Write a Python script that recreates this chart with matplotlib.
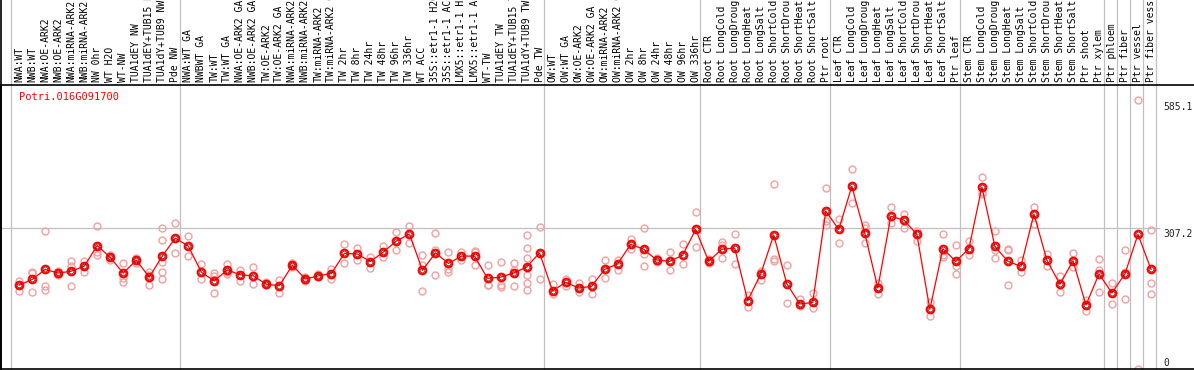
import matplotlib
matplotlib.use("Agg")
import matplotlib.pyplot as plt
import matplotlib.transforms as mtransforms

gene = "Potri.016G091700"

samples = [
    "NWA:WT", "NWB:WT", "NWA:OE-ARK2", "NWB:OE-ARK2", "NWA:miRNA-ARK2",
    "NWB:miRNA-ARK2", "NW 0hr", "WT H2O", "WT-NW", "TUA1dEY NW",
    "TUA1dEY+TUB15 NW", "TUA1dY+TUB9 NW", "Pde NW",
    "NWA:WT GA", "NWBWT GA", "TW:WT", "TW:WT GA", "NWA:OE-ARK2 GA",
    "NWB:OE-ARK2 GA", "TW:OE-ARK2", "TW:OE-ARK2 GA", "NWA:miRNA-ARK2 GA",
    "NWB:miRNA-ARK2 GA", "TW:miRNA-ARK2", "TW:miRNA-ARK2 GA", "TW 2hr",
    "TW 8hr", "TW 24hr", "TW 48hr", "TW 96hr", "TW 336hr", "WT ACC",
    "35S::etr1-1 H2O", "35S::etr1-1 ACC", "LMX5::etr1-1 H2O",
    "LMX5::etr1-1 ACC", "WT-TW", "TUA1dEY TW", "TUA1dEY+TUB15 TW",
    "TUA1dY+TUB9 TW", "Pde TW",
    "OW:WT", "OW:WT GA", "OW:OE-ARK2", "OW:OE-ARK2 GA", "OW:miRNA-ARK2",
    "OW:miRNA-ARK2 GA", "OW 2hr", "OW 8hr", "OW 24hr", "OW 48hr", "OW 96hr",
    "OW 336hr",
    "Root CTR", "Root LongCold", "Root LongDrought", "Root LongHeat",
    "Root LongSalt", "Root ShortCold", "Root ShortDrought", "Root ShortHeat",
    "Root ShortSalt", "Ptr root",
    "Leaf CTR", "Leaf LongCold", "Leaf LongDrought", "Leaf LongHeat",
    "Leaf LongSalt", "Leaf ShortCold", "Leaf ShortDrought", "Leaf ShortHeat",
    "Leaf ShortSalt", "Ptr leaf",
    "Stem CTR", "Stem LongCold", "Stem LongDrought", "Stem LongHeat",
    "Stem LongSalt", "Stem ShortCold", "Stem ShortDrought", "Stem ShortHeat",
    "Stem ShortSalt", "Ptr shoot", "Ptr xylem",
    "Ptr phloem", "Ptr fiber", "Ptr vessel", "Ptr fiber vessel",
]

means = [
    183, 195, 217, 209, 213, 224, 269, 243, 209, 237, 200, 246, 285,
    268, 211, 192, 216, 205, 203, 184.5, 181.5, 226, 196, 203, 208, 252,
    250.5, 234, 255, 279, 294, 215, 253, 230, 246, 246, 197.5, 200, 209,
    222, 253,
    170, 189, 176.5, 180, 217, 229, 271.6, 261, 237.5, 234.6, 248, 304,
    234.6, 260.8, 263.6, 148.8, 207, 292, 186, 141.6, 145, 344,
    304, 398, 295.6, 176.5, 332.6, 324.6, 293.4, 130, 262, 234.6,
    262, 396.5, 267, 234.6, 223.7, 337.7, 236.8, 184.5, 236, 139.4, 207,
    165.6, 207.7, 293.4, 217,
]

replicates = [
    [192, 183, 169], [212, 210, 168], [300, 181, 172], [205, 209, 213],
    [235, 225, 181], [235, 225, 212], [311, 255, 249], [248, 244, 237],
    [232, 199, 190], [242, 237, 232], [212, 204, 184],
    [306.5, 280, 232.5, 211, 195], [317, 285, 253],
    [290, 246], [229, 195], [208.5, 202.6, 165], [228, 212, 208],
    [216, 192], [222, 184.5], [189.5, 182], [194, 165], [222, 226, 230],
    [192, 196, 200], [200, 203, 206], [218, 195], [273, 230], [263.6, 237],
    [245, 220], [267, 243], [298, 258.6], [311, 275], [248, 227, 170],
    [295.6, 259, 204], [254, 218, 212], [254, 246, 237], [257, 254, 227],
    [226, 184, 182], [232.5, 183, 179], [231, 215, 181],
    [292, 263, 242, 223, 204, 187, 171.5], [309, 195],
    [184.5, 163], [196, 181], [186.6, 167], [195.4, 163.4], [237, 197.5],
    [237.5, 216], [283, 262], [307, 250, 224], [242, 233], [254, 215],
    [272, 229], [342, 265],
    [239, 230], [276.7, 269.5, 241.8], [294, 229], [162, 134.4],
    [213.5, 194], [402, 239, 234.6], [226.6, 143.8], [151.8, 137],
    [165, 132], [393.6, 323, 313.7],
    [326, 274], [435.7, 361], [313.7, 306.5, 274], [188, 178, 162.7],
    [353, 317], [337, 306.5], [300.7, 278.9], [146, 114.7],
    [293.4, 248, 244.7], [269.5, 223.7, 206],
    [278.9, 249], [417.6, 385.6, 381], [300, 260, 242], [262, 259, 183],
    [237.5, 212], [353.6, 316], [250.5, 225], [203, 167], [252.7, 221.5],
    [150, 127], [239, 215.7, 167],
    [186.7, 141.6], [258.6, 212, 151.8], [585.1, 0], [302.8, 186.7, 162.7],
]

group_edges = [0, 13, 41, 53, 63, 73, 84, 85, 86, 87, 88]
scale_ticks = [585.1, 307.2, 0]

# pixel layout of the original image
W, H = 1194, 370
col_w = 13.01          # px per sample column
x0_px = 10.7           # px of first column edge
top_px, bot_px = 85, 369
px_per_unit = 0.459

fig = plt.figure(figsize=(W / 100, H / 100), dpi=100)
ax = fig.add_axes([1 / W, (H - bot_px) / H, (W - 1) / W, (bot_px - top_px) / H])
ax.set_xlim((1 - x0_px) / col_w, (W - x0_px) / col_w)
ax.set_ylim(0, (bot_px - top_px) / px_per_unit)
ax.set_xticks([])
ax.set_yticks([])
ax.spines["right"].set_visible(False)
for s in ["left", "top", "bottom"]:
    ax.spines[s].set_linewidth(1.2)
    ax.spines[s].set_color("black")

ext = bot_px / (bot_px - top_px)  # axes fraction of the figure top
ax.axvline(ax.get_xlim()[0], 0, ext, color="black", lw=1.2, clip_on=False)
for e in group_edges:
    ax.axvline(e, 0, ext, color="#c0c0c0", lw=0.9, clip_on=False, zorder=0)
ax.hlines(scale_ticks[1], ax.get_xlim()[0], 88.35, color="#c0c0c0", lw=0.9, zorder=0)

mono = "DejaVu Sans Mono"
xs = [i + 0.65 for i in range(len(samples))]
trans = mtransforms.blended_transform_factory(ax.transData, ax.transAxes)
for x, lab in zip(xs, samples):
    ax.text(x, 1 + 3 / (bot_px - top_px), lab, transform=trans, rotation=90,
            ha="center", va="bottom", fontsize=7, family=mono, color="black")

# replicates
for x, r in zip(xs, replicates):
    ax.plot([x] * len(r), r, "o", ms=5, mfc="none", mec="#f2a0a0", mew=1.0,
            clip_on=False, zorder=2)

# mean line
ax.plot(xs, means, "-", color="red", lw=0.9, zorder=3)
ax.plot(xs, means, "o", ms=5.5, mfc="none", mec="red", mew=1.5, zorder=4)
ax.plot(xs, means, "o", ms=3.4, mfc="none", mec="#700000", mew=0.45, zorder=5)

ax.text(0.65, 1 - 12 / (bot_px - top_px), gene, transform=trans, color="red",
        fontsize=7.5, family=mono, ha="left", va="center")

for v, va in zip(scale_ticks, ["top", "top", "bottom"]):
    ax.text(88.57, v + (-3 if va == "top" else 3), f"{v:g}", fontsize=7,
            family=mono, color="#222222", ha="left", va=va)

fig.savefig("out.png", dpi=100)
